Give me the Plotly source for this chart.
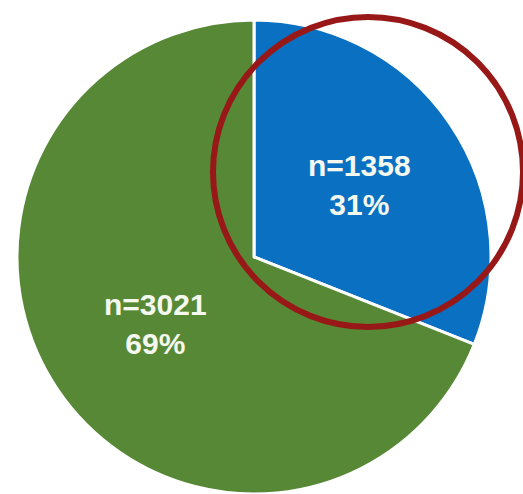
import math
import plotly.graph_objects as go

# Two groups, counts per group
groups = ["Group A", "Group B"]
counts = [1358, 3021]
colors = ["#0a70c2", "#578836"]

W, H = 523, 494
cx, cy, R = 254, 257, 237  # pie centre / radius in pixels (from top-left)

total = sum(counts)
shares = [c / total for c in counts]

fig = go.Figure(
    go.Pie(
        labels=groups,
        values=counts,
        sort=False,
        direction="clockwise",
        rotation=0,
        marker=dict(colors=colors, line=dict(color="white", width=3)),
        textinfo="none",
        hoverinfo="label+value+percent",
        showlegend=False,
        domain=dict(x=[(cx - R) / W, (cx + R) / W],
                    y=[(H - cy - R) / H, (H - cy + R) / H]),
    )
)

# Labels placed at each slice's mid-angle
label_r = [0.54, 0.50]
start = 0.0
for i, (n, s) in enumerate(zip(counts, shares)):
    mid = (start + s / 2) * 2 * math.pi
    start += s
    px = cx + label_r[i] * R * math.sin(mid)
    py = cy - label_r[i] * R * math.cos(mid)
    fig.add_annotation(
        x=px / W, y=1 - py / H, xref="paper", yref="paper",
        xanchor="center", yanchor="middle",
        text=f"<b>n={n}<br>{round(s * 100)}%</b>",
        showarrow=False,
        font=dict(family="Liberation Sans, Arial, sans-serif", size=30, color="#f4f8ee"),
        align="center",
    )

# Highlight ring over the upper-right area
rcx, rcy, rr = 368, 172, 155
fig.add_shape(
    type="circle", xref="paper", yref="paper",
    x0=(rcx - rr) / W, x1=(rcx + rr) / W,
    y0=1 - (rcy + rr) / H, y1=1 - (rcy - rr) / H,
    line=dict(color="#981818", width=6),
    layer="above",
)

fig.update_layout(
    width=W, height=H,
    margin=dict(l=0, r=0, t=0, b=0),
    paper_bgcolor="white", plot_bgcolor="white",
)

fig.write_html("out.html")
